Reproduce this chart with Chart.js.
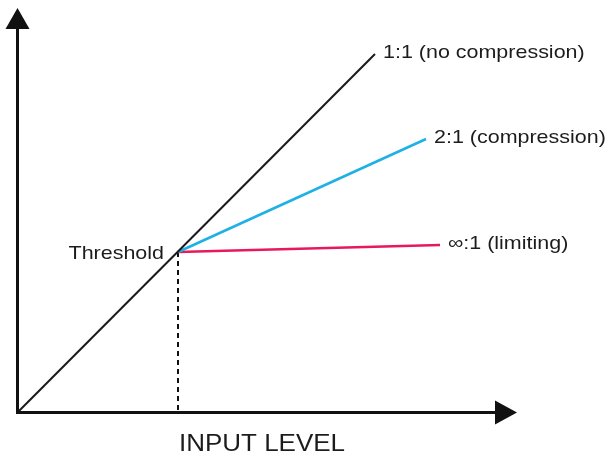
<!DOCTYPE html>
<html lang="en">
<head>
<meta charset="utf-8">
<style>
  html, body { margin: 0; padding: 0; background: #ffffff; }
  #wrap { width: 615px; height: 456px; }
</style>
</head>
<body>
<div id="wrap"><canvas id="myChart" width="615" height="456"></canvas></div>
<script src="https://cdn.jsdelivr.net/npm/chart.js"></script>
<script>
// transfer curve, input level vs output level (arbitrary units)
const seriesNames = ['1:1 (no compression)', '2:1 (compression)', '\u221E:1 (limiting)'];
const startX = [0, 16, 16];
const startY = [0, 16, 16];
const endX = [35.7, 40.8, 42.2];
const endY = [35.8, 27.3, 16.7];
const thresholdIn = 16;
const thresholdOut = 16;
const axisMax = [50, 40];
const axisTitle = 'INPUT LEVEL';
const thresholdLabel = 'Threshold';

const colors = ['#1a1a1a', '#1fb0e6', '#e8185c'];
const widths = [2, 2.5, 2.5];

const datasets = seriesNames.map((name, i) => ({
    label: name,
    data: [{x: startX[i], y: startY[i]}, {x: endX[i], y: endY[i]}],
    borderColor: colors[i],
    borderWidth: widths[i],
    showLine: true,
    pointRadius: 0,
    fill: false
}));
// dashed drop line from the threshold to the input axis
datasets.push({
    label: 'threshold drop',
    data: [{x: thresholdIn, y: thresholdOut}, {x: thresholdIn, y: 0}],
    borderColor: '#111',
    borderWidth: 2,
    borderDash: [5, 4],
    showLine: true,
    pointRadius: 0
});

const SX = 1.13; // the original lettering is a bit wide
function wideText(ctx, text, x, y, align) {
    ctx.save();
    const w = ctx.measureText(text).width * SX;
    let left = x;
    if (align === 'right') left = x - w;
    if (align === 'center') left = x - w / 2;
    ctx.translate(left, y);
    ctx.scale(SX, 1);
    ctx.textAlign = 'left';
    ctx.fillText(text, 0, 0);
    ctx.restore();
}

const decor = {
    id: 'decor',
    afterDatasetsDraw(chart) {
        const ctx = chart.ctx;
        const xs = chart.scales.x, ys = chart.scales.y;
        const ox = xs.getPixelForValue(0) - 0.5;
        const oy = ys.getPixelForValue(0) + 0.5;
        const xTip = xs.getPixelForValue(axisMax[0]) - 1;
        const yTip = ys.getPixelForValue(axisMax[1]) - 4;
        ctx.save();
        ctx.strokeStyle = '#111';
        ctx.fillStyle = '#111';
        ctx.lineWidth = 3;
        ctx.beginPath();
        ctx.moveTo(ox, yTip + 18);
        ctx.lineTo(ox, oy);
        ctx.lineTo(xTip - 18, oy);
        ctx.stroke();
        // arrow heads
        ctx.beginPath();
        ctx.moveTo(ox, yTip);
        ctx.lineTo(ox - 12, yTip + 21);
        ctx.lineTo(ox + 12, yTip + 21);
        ctx.closePath();
        ctx.fill();
        ctx.beginPath();
        ctx.moveTo(xTip, oy);
        ctx.lineTo(xTip - 22, oy - 12);
        ctx.lineTo(xTip - 22, oy + 12);
        ctx.closePath();
        ctx.fill();

        ctx.fillStyle = '#1c1c1c';
        ctx.textBaseline = 'middle';
        ctx.font = '19px "Liberation Sans", Arial, sans-serif';
        seriesNames.forEach((name, i) => {
            const px = xs.getPixelForValue(endX[i]);
            const py = ys.getPixelForValue(endY[i]);
            wideText(ctx, name, px + 8, py - 1, 'left');
        });
        wideText(ctx, thresholdLabel, xs.getPixelForValue(thresholdIn) - 14,
            ys.getPixelForValue(thresholdOut) + 2, 'right');
        ctx.textBaseline = 'alphabetic';
        ctx.font = '23px "Liberation Sans", Arial, sans-serif';
        wideText(ctx, axisTitle, xs.getPixelForValue(axisMax[0] * 0.488), 451, 'center');
        ctx.restore();
    }
};

const config = {
    type: 'scatter',
    data: { datasets: datasets },
    options: {
        responsive: false,
        animation: false,
        layout: { padding: { left: 18, top: 12, right: 97, bottom: 44 } },
        plugins: { legend: { display: false }, tooltip: { enabled: false } },
        scales: {
            x: { type: 'linear', min: 0, max: axisMax[0], display: false },
            y: { type: 'linear', min: 0, max: axisMax[1], display: false }
        }
    },
    plugins: [decor]
};

const myChart = new Chart(document.getElementById('myChart'), config);
</script>
</body>
</html>
